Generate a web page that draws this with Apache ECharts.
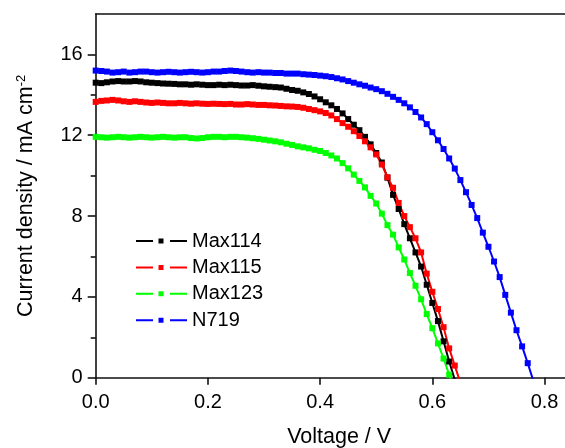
<!DOCTYPE html>
<html><head><meta charset="utf-8">
<script src="https://cdn.jsdelivr.net/npm/echarts@6/dist/echarts.min.js"></script>
<style>html,body{margin:0;padding:0;background:#fff}#c{width:565px;height:448px}</style>
</head><body><div id="c"></div>
<script>
const voltage = [0.00,0.01,0.02,0.03,0.04,0.05,0.06,0.07,0.08,0.09,0.10,0.11,0.12,0.13,0.14,0.15,0.16,0.17,0.18,0.19,0.20,0.21,0.22,0.23,0.24,0.25,0.26,0.27,0.28,0.29,0.30,0.31,0.32,0.33,0.34,0.35,0.36,0.37,0.38,0.39,0.40,0.41,0.42,0.43,0.44,0.45,0.46,0.47,0.48,0.49,0.50,0.51,0.52,0.53,0.54,0.55,0.56,0.57,0.58,0.59,0.60,0.61,0.62,0.63,0.64,0.65,0.66,0.67,0.68,0.69,0.70,0.71,0.72,0.73,0.74,0.75,0.76,0.77,0.78];
const max114 = [14.60,14.58,14.62,14.66,14.68,14.66,14.66,14.68,14.66,14.62,14.60,14.58,14.56,14.55,14.54,14.52,14.52,14.50,14.52,14.50,14.48,14.48,14.50,14.48,14.50,14.48,14.46,14.46,14.48,14.45,14.42,14.40,14.38,14.36,14.30,14.24,14.20,14.12,14.04,13.92,13.78,13.63,13.48,13.30,13.08,12.80,12.52,12.25,11.92,11.55,11.12,10.65,9.90,9.05,8.35,7.60,6.90,6.20,5.50,4.60,3.70,2.80,1.80,0.80,-0.10];
const max115 = [13.65,13.70,13.72,13.75,13.72,13.68,13.65,13.68,13.65,13.62,13.60,13.62,13.60,13.58,13.58,13.60,13.58,13.56,13.58,13.56,13.55,13.56,13.55,13.54,13.55,13.52,13.52,13.54,13.52,13.50,13.50,13.48,13.47,13.45,13.43,13.42,13.40,13.36,13.30,13.24,13.18,13.10,12.98,12.80,12.60,12.42,12.20,11.96,11.70,11.40,11.05,10.55,9.92,9.40,8.65,8.00,7.45,6.90,6.20,5.15,4.25,3.40,2.50,1.45,0.60,-0.25];
const max123 = [11.92,11.90,11.88,11.90,11.92,11.90,11.88,11.90,11.92,11.90,11.88,11.90,11.92,11.90,11.88,11.90,11.90,11.86,11.84,11.86,11.90,11.92,11.92,11.90,11.92,11.92,11.90,11.88,11.85,11.82,11.78,11.74,11.70,11.65,11.58,11.52,11.45,11.40,11.35,11.28,11.22,11.12,11.00,10.85,10.62,10.36,10.05,9.74,9.42,9.00,8.62,8.12,7.55,7.08,6.45,5.85,5.18,4.55,3.88,3.15,2.45,1.70,0.95,0.15,-0.60];
const n719 = [15.20,15.18,15.15,15.10,15.12,15.15,15.10,15.12,15.15,15.15,15.12,15.10,15.12,15.14,15.12,15.10,15.12,15.14,15.12,15.10,15.12,15.15,15.15,15.18,15.20,15.18,15.15,15.12,15.10,15.12,15.10,15.10,15.08,15.08,15.05,15.05,15.05,15.02,15.00,14.98,14.95,14.92,14.88,14.82,14.76,14.68,14.60,14.52,14.45,14.36,14.28,14.18,14.05,13.90,13.75,13.58,13.38,13.15,12.88,12.55,12.15,11.75,11.32,10.85,10.35,9.78,9.18,8.55,7.90,7.18,6.48,5.75,4.98,4.10,3.22,2.35,1.55,0.72,-0.15];
const seriesNames = ['Max114','Max115','Max123','N719'];
const seriesColors = ['#000000','#ff0000','#00ff00','#0000ff'];
const xTicks = [0,0.2,0.4,0.6,0.8];
const yTicks = [0,4,8,12,16];
const yMinorTicks = [2,6,10,14];

const allJ = [max114,max115,max123,n719];
const chart = echarts.init(document.getElementById('c'), null, {renderer:'canvas'});
const font = 'Liberation Sans, Arial, sans-serif';
const axisCol = '#111';
const legendIcon = 'path://M0,1.5h17v2h-17z M22.5,0h5v5h-5z M34,1.5h17v2h-17z';
chart.setOption({
  animation:false,
  backgroundColor:'#fff',
  grid:{left:95.7, top:14, width:476.9, height:363.7, containLabel:false, outerBoundsMode:'none'},
  xAxis:[{
    type:'value', min:0, max:0.85, position:'bottom',
    axisLine:{show:true, onZero:false, lineStyle:{color:axisCol,width:1.6}},
    axisTick:{show:true, inside:false, length:7, customValues:xTicks, lineStyle:{color:axisCol,width:1.6}},
    axisLabel:{show:true, customValues:xTicks, margin:15, color:'#000', fontFamily:font, fontSize:20, formatter:v=>v.toFixed(1)},
    splitLine:{show:false},
    name:'Voltage / V', nameLocation:'middle', nameGap:48,
    nameTextStyle:{color:'#000', fontFamily:font, fontSize:21.5, padding:[0,0,0,10]}
  },{
    type:'value', min:0, max:0.85, position:'top',
    axisLine:{show:true, onZero:false, lineStyle:{color:axisCol,width:1.6}},
    axisTick:{show:false}, axisLabel:{show:false}, splitLine:{show:false}
  }],
  yAxis:[{
    type:'value', min:0, max:18, position:'left',
    axisLine:{show:true, onZero:false, lineStyle:{color:axisCol,width:1.6}},
    axisTick:{show:true, inside:false, length:8, customValues:yTicks, lineStyle:{color:axisCol,width:1.6}},
    axisLabel:{show:true, customValues:yTicks, margin:13, color:'#000', fontFamily:font, fontSize:20},
    splitLine:{show:false},
    name:'Current density / mA cm{sup|-2}', nameLocation:'middle', nameGap:58, nameRotate:90,
    nameTextStyle:{color:'#000', fontFamily:font, fontSize:21.5,
      rich:{sup:{fontSize:13, verticalAlign:'top', padding:[0,0,10,0], color:'#000', fontFamily:font}}}
  },{
    type:'value', min:0, max:18, position:'left',
    axisLine:{show:false, onZero:false},
    axisTick:{show:true, inside:false, length:5, customValues:yMinorTicks, lineStyle:{color:axisCol,width:1.6}},
    axisLabel:{show:false}, splitLine:{show:false}
  }],
  legend:{
    orient:'vertical', left:131, top:226, itemWidth:51, itemHeight:5, itemGap:6.4,
    icon:legendIcon,
    textStyle:{color:'#000', fontFamily:font, fontSize:20},
    data:seriesNames
  },
  series: seriesNames.map((name,k)=>({
    name:name, type:'line', xAxisIndex:0, yAxisIndex:0,
    data: allJ[k].map((j,i)=>[voltage[i], j]),
    symbol:'rect', symbolSize:6, showSymbol:true,
    lineStyle:{color:seriesColors[k], width:2},
    itemStyle:{color:seriesColors[k]},
    clip:true
  }))
});
</script></body></html>
